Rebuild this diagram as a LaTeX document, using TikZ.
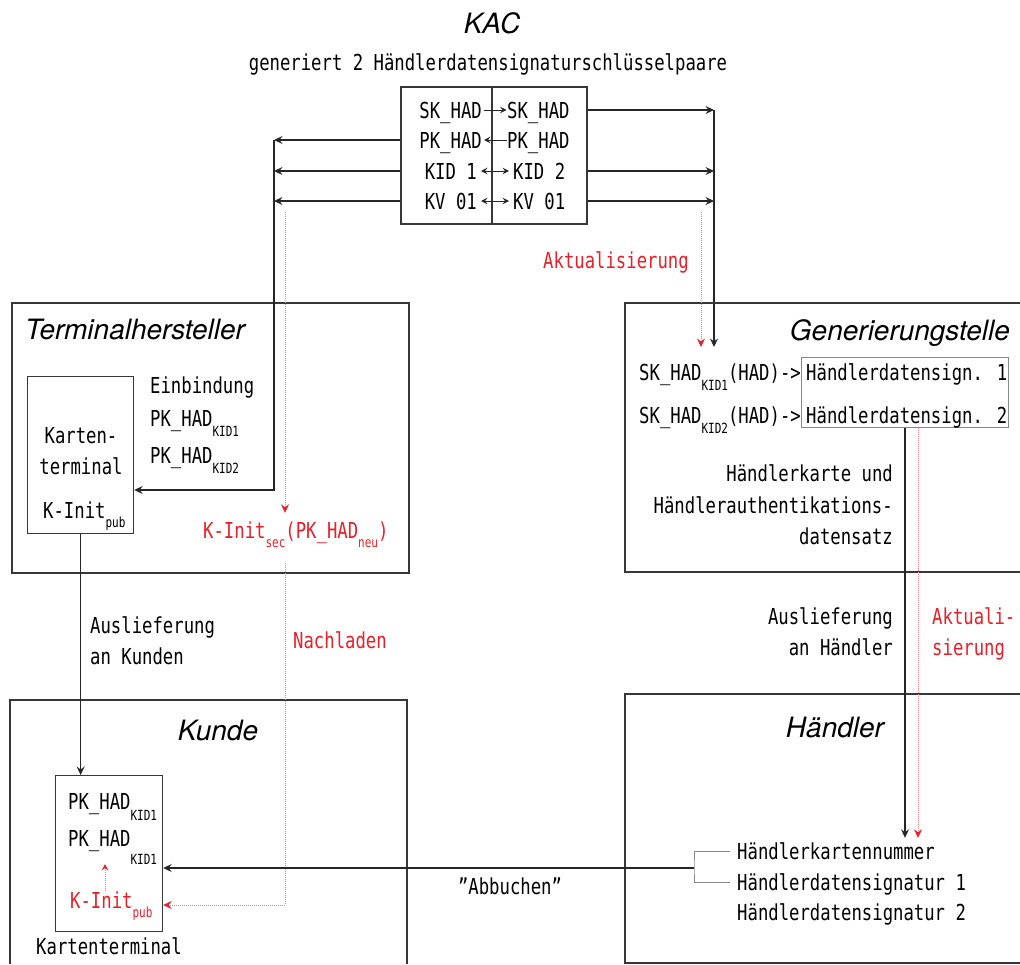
\documentclass[tikz,border=0pt]{standalone}
\usepackage{fontspec}
\setmainfont{DejaVu Sans Mono}[FakeStretch=0.785]
\newfontfamily\headfont{TeX Gyre Heros}
\usetikzlibrary{arrows.meta}
\definecolor{kred}{RGB}{232,30,40}
\definecolor{frame}{RGB}{55,55,55}
\definecolor{lgray}{RGB}{135,135,135}
% lowered index in small type
\newcommand\lowidx[2][10pt]{\raisebox{-#1}{\fontsize{14}{14}\selectfont #2}}

\begin{document}
\begin{tikzpicture}[x=1pt,y=-1pt,
  txt/.style={font=\fontsize{22}{31}\selectfont, inner sep=0pt, text height=16pt, text depth=0pt},
  redtxt/.style={txt, text=kred},
  head/.style={font=\headfont\itshape\fontsize{28}{32}\selectfont, inner sep=0pt},
  frm/.style={draw=frame, line width=1.2pt},
  arr/.style={draw=black!85, line width=1.2pt, -{Stealth[length=8.5pt,width=8pt,inset=3pt]}},
  shortarr/.style={draw=black!85, line width=1pt, -{Stealth[length=6.5pt,width=6.5pt,inset=2.5pt]}},
  shortboth/.style={draw=black!85, line width=1pt, arrows={Stealth[length=6.5pt,width=6.5pt,inset=2.5pt]-Stealth[length=6.5pt,width=6.5pt,inset=2.5pt]}},
  redarr/.style={draw=kred!55, line width=0.8pt, dash pattern=on 1pt off 1pt, -{Stealth[length=8.5pt,width=8pt,inset=3pt,color=kred]}},
]
\useasboundingbox (0,0) rectangle (1020,964);

% ---------- KAC ----------
\node[head, anchor=base] (kacT) at (492,33) {KAC};
\node[txt] (kacS) at (488,62) {generiert 2 Händlerdatensignaturschlüsselpaare};

\node[frm, minimum width=186pt, minimum height=137pt, inner sep=0pt] (kac) at (494,155.5) {};
\draw[frm] ([xshift=-2pt]kac.north) -- ([xshift=-2pt]kac.south);

\node[txt, anchor=east] (l1) at (482,110) {SK\_HAD};
\node[txt, anchor=west] (r1) at (507,110) {SK\_HAD};
\node[txt, anchor=east] (l2) at (482,140) {PK\_HAD};
\node[txt, anchor=west] (r2) at (507,140) {PK\_HAD};
\node[txt, anchor=east] (l3) at (477,171) {KID 1};
\node[txt, anchor=west] (r3) at (513,171) {KID 2};
\node[txt, anchor=east] (l4) at (477,201) {KV 01};
\node[txt, anchor=west] (r4) at (513,201) {KV 01};

\draw[shortarr, shorten <=2pt, shorten >=0.5pt] (l1.east) -- (r1.west);
\draw[shortarr, shorten <=0.5pt, shorten >=2pt] (r2.west) -- (l2.east);
\draw[shortboth, shorten <=4pt, shorten >=4pt] (l3.east) -- (r3.west);
\draw[shortboth, shorten <=4pt, shorten >=4pt] (l4.east) -- (r4.west);

% key distribution to the right
\coordinate (rj) at (714,110);
\coordinate (gin) at (714,347);
\draw[arr] (kac.east |- r1.east) -- (rj);
\draw[arr] (kac.east |- r3.east) -- (rj |- r3.east);
\draw[arr] (kac.east |- r4.east) -- (rj |- r4.east);
\draw[arr] (rj) -- (gin);

% key distribution to the left
\coordinate (lj) at (274,140);
\coordinate (lbend) at (274,490);
\draw[arr] (kac.west |- l2.west) -- (lj);
\draw[arr] (kac.west |- l3.west) -- (lj |- l3.west);
\draw[arr] (kac.west |- l4.west) -- (lj |- l4.west);

% ---------- Terminalhersteller ----------
\draw[frm] (12,303) rectangle (409,573);
\node[head, anchor=base west] (thT) at (25,339) {Terminalhersteller};
\node[frm, minimum width=106pt, minimum height=157pt, inner sep=0pt, anchor=north west] (kt1) at (27,376) {};
\node[txt] (kt1a) at (81,435) {Karten-};
\node[txt] (kt1b) at (81,466) {terminal};
\node[txt, anchor=west] (kt1c) at (43,510) {K-Init\lowidx[9pt]{pub}};
\node[txt, anchor=west] (einb) at (150,385) {Einbindung};
\node[txt, anchor=west] (pk1) at (150,418) {PK\_HAD\lowidx{KID1}};
\node[txt, anchor=west] (pk2) at (150,455) {PK\_HAD\lowidx{KID2}};
\node[redtxt, anchor=west] (ksec) at (203,530) {K-Init\lowidx[9pt]{sec}(PK\_HAD\lowidx[9pt]{neu})};

\draw[arr] (lj) -- (lbend) -- (kt1.east |- lbend);

\coordinate (rtl) at (285,212);
\draw[redarr, shorten >=9pt] (rtl) -- (rtl |- ksec.north);

% ---------- Generierungstelle ----------
\draw[frm] (1020,303) -| (625,572) -- (1020,572);
\node[head, anchor=base east] (gsT) at (1010,340) {Generierungstelle};
\node[txt, anchor=west] (sk1) at (639,372) {SK\_HAD\lowidx{KID1}(HAD)->};
\node[txt, anchor=west] (sk2) at (639,415) {SK\_HAD\lowidx{KID2}(HAD)->};
\node[draw=lgray, line width=1pt, minimum width=207pt, minimum height=70pt, inner sep=0pt, anchor=north west] (sigbox) at (801,357) {};
\node[txt, anchor=west] (sg1) at (806,372) {Händlerdatensign. 1};
\node[txt, anchor=west] (sg2) at (806,415) {Händlerdatensign. 2};
\node[txt, anchor=east] (hk1) at (893,473) {Händlerkarte und};
\node[txt, anchor=east] (hk2) at (893,505) {Händlerauthentikations-};
\node[txt, anchor=east] (hk3) at (893,536) {datensatz};

\node[redtxt, anchor=west] (akt) at (543,260) {Aktualisierung};
\coordinate (rtr) at (701,212);
\draw[redarr] (rtr) -- (rtr |- gin);

% ---------- Händler ----------
\draw[frm] (1020,694) -| (625,963) -- (1020,963);
\node[head, anchor=base] (hdT) at (835,737) {Händler};
\node[txt, anchor=west] (hkn) at (737,851) {Händlerkartennummer};
\node[txt, anchor=west] (hs1) at (737,882) {Händlerdatensignatur 1};
\node[txt, anchor=west] (hs2) at (737,912) {Händlerdatensignatur 2};

\node[txt, anchor=east] (al1) at (893,616) {Auslieferung};
\node[txt, anchor=east] (al2) at (893,647) {an Händler};
\node[redtxt, anchor=west] (ak1) at (932,616) {Aktuali-};
\node[redtxt, anchor=west] (ak2) at (932,647) {sierung};

\draw[arr, shorten >=5pt] (sigbox.south) -- (sigbox.south |- hkn.north);
\coordinate (rgo) at (918,428);
\draw[redarr, shorten >=5pt] (rgo) -- (rgo |- hkn.north);

% ---------- Kunde ----------
\draw[frm] (10,964) |- (407,700) -- (407,964);
\node[head, anchor=base] (kuT) at (218,740) {Kunde};
\node[frm, minimum width=107pt, minimum height=156pt, inner sep=0pt, anchor=north west] (kt2) at (55,775) {};
\node[txt, anchor=west] (kp1) at (68,801) {PK\_HAD\lowidx[11pt]{KID1}};
\node[txt, anchor=west] (kp2) at (68,838) {PK\_HAD\lowidx[18pt]{KID1}};
\node[redtxt, anchor=west] (kip) at (70,900) {K-Init\lowidx[9pt]{pub}};
\node[txt] (ktl) at (109,946) {Kartenterminal};
\coordinate (kiu) at (105,891);
\coordinate (kiv) at (105,864);
\draw[redarr, -{Stealth[length=6.5pt,width=6.5pt,inset=2.5pt,color=kred]}] (kiu) -- (kiv);

\draw[arr] (kt1.south) -- (kt1.south |- kt2.north);
\node[txt, anchor=west] (au1) at (90,625) {Auslieferung};
\node[txt, anchor=west] (au2) at (90,656) {an Kunden};
\node[redtxt, anchor=west] (nach) at (293,640) {Nachladen};

\coordinate (rnl) at (285,563);
\coordinate (rnb) at (285,905);
\draw[redarr] (rnl) -- (rnb) -- (kt2.east |- rnb);

% ---------- "Abbuchen" ----------
\coordinate (brk) at (694,868);
\draw[lgray, line width=1pt] ([xshift=-7pt]hkn.west) -| (brk) |- ([xshift=-7pt]hs1.west);
\draw[arr] (brk) -- (kt2.east |- brk);
\node[txt] (abb) at (510,886) {\char34 Abbuchen\char34};

\end{tikzpicture}
\end{document}
